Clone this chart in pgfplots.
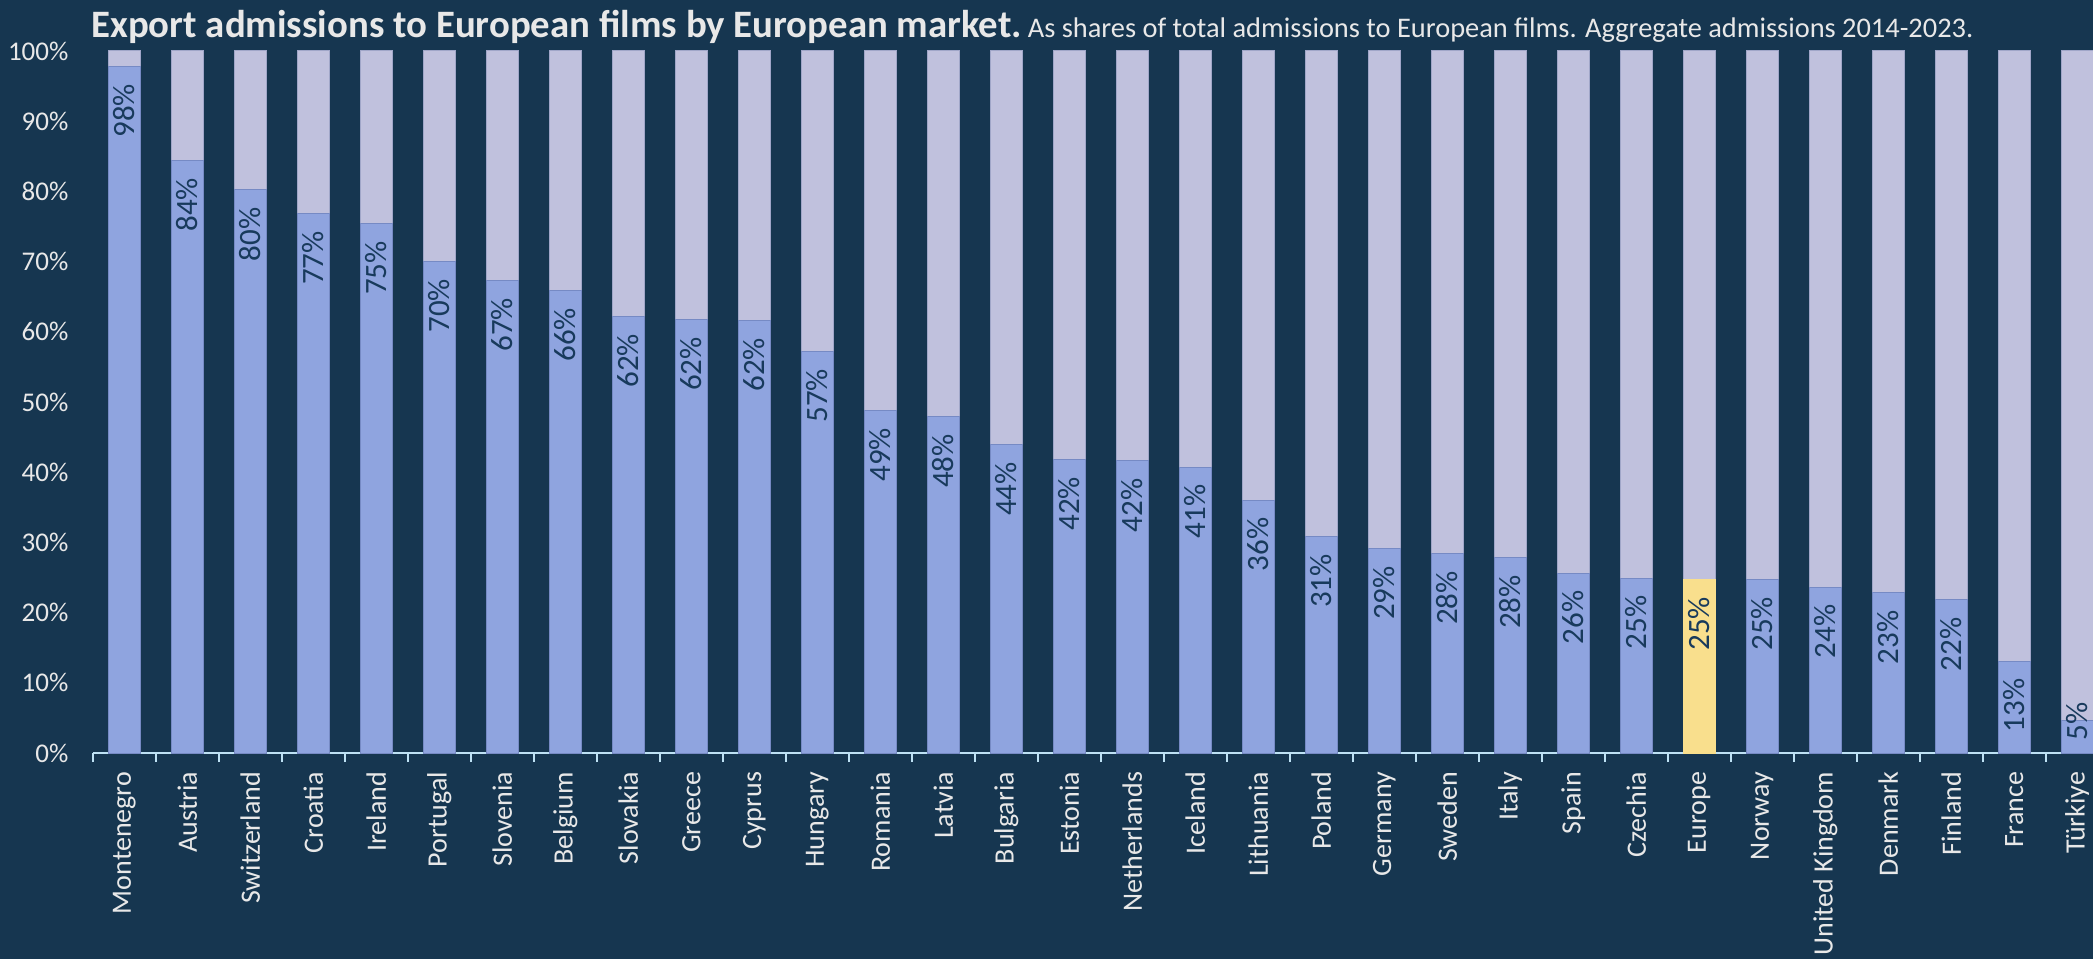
\documentclass[border=0pt]{standalone}
\usepackage{fontspec}
\setmainfont{Carlito}
\usepackage{pgfplots}
\usepackage{pgfplotstable}
\pgfplotsset{compat=1.18}
\definecolor{bg}{RGB}{22,54,80}
\definecolor{barblue}{RGB}{143,164,223}
\definecolor{baredge}{RGB}{118,138,196}
\definecolor{lav}{RGB}{192,193,221}
\definecolor{lavedge}{RGB}{160,166,200}
\definecolor{euyel}{RGB}{249,223,141}
\definecolor{lbl}{RGB}{24,58,92}
\definecolor{txt}{RGB}{232,232,232}
\definecolor{axblue}{RGB}{190,226,245}
\pgfplotstableread{
x y
0 97.8
1 84.4
2 80.2
3 76.8
4 75.4
5 70.0
6 67.3
7 65.9
8 62.2
9 61.7
10 61.6
11 57.2
12 48.8
13 47.9
14 43.9
15 41.8
16 41.6
17 40.7
18 36.0
19 30.8
20 29.1
21 28.4
22 27.8
23 25.6
24 24.9
26 24.7
27 23.6
28 22.8
29 21.8
30 13.1
}\countries
\pgfplotstableread{
x y
31 4.7
}\turkiye
\pgfplotstableread{
x y
25 24.7
}\europe
\pgfplotstableread{
x y
0 100
1 100
2 100
3 100
4 100
5 100
6 100
7 100
8 100
9 100
10 100
11 100
12 100
13 100
14 100
15 100
16 100
17 100
18 100
19 100
20 100
21 100
22 100
23 100
24 100
25 100
26 100
27 100
28 100
29 100
30 100
31 100
}\total
\begin{document}
\begin{tikzpicture}[x=1pt,y=1pt]
\fill[bg] (0,0) rectangle (1046.5,479.5);
\node[anchor=base west, inner sep=0pt, text=txt] at (45.5,460.8)
  {{\bfseries\fontsize{19.4}{21}\selectfont Export admissions to European films by European market.} {\fontsize{14.2}{16}\selectfont As shares of total admissions to European films. Aggregate admissions 2014-2023.}};
\begin{axis}[
  at={(46.4pt,103pt)}, anchor=south west,
  width=1008pt, height=351pt, scale only axis,
  xmin=-0.5, xmax=31.5, ymin=0, ymax=100,
  /pgf/number format/assume math mode=true,
  axis x line*=bottom, axis y line*=left,
  x axis line style={draw=axblue, line width=1pt, -},
  y axis line style={draw=none},
  ytick={0,10,...,100},
  yticklabel={\pgfmathprintnumber{\tick}\%},
  yticklabel style={font=\fontsize{13.5}{15}\selectfont, text=txt, inner xsep=0pt, xshift=-12pt},
  xtick={0,...,31},
  xticklabels={Montenegro,Austria,Switzerland,Croatia,Ireland,Portugal,Slovenia,Belgium,Slovakia,Greece,Cyprus,Hungary,Romania,Latvia,Bulgaria,Estonia,Netherlands,Iceland,Lithuania,Poland,Germany,Sweden,Italy,Spain,Czechia,Europe,Norway,United Kingdom,Denmark,Finland,France,Türkiye},
  xticklabel style={font=\fontsize{14}{16}\selectfont, text=txt, rotate=90, anchor=east, inner xsep=9.3pt, inner ysep=0pt},
  major tick length=0pt,
  minor xtick={-0.5,0.5,...,31.5},
  minor tick length=4.5pt,
  tick align=outside,
  minor tick style={draw=axblue, line width=1pt},
  ytick style={draw=none},
  clip=true,
]
\addplot[ybar, bar width=16pt, bar shift=0pt, fill=lav, draw=lavedge, line width=0.5pt] table[x=x,y=y] {\total};
\addplot[ybar, bar width=16pt, bar shift=0pt, fill=barblue, draw=baredge, line width=0.5pt,
  nodes near coords={\pgfmathprintnumber[fixed,precision=0]{\pgfplotspointmeta}\%},
  every node near coord/.append style={rotate=90, anchor=east, font=\fontsize{15.5}{17}\selectfont, text=lbl, inner xsep=8.5pt, inner ysep=0pt}]
  table[x=x,y=y] {\countries};
\addplot[ybar, bar width=16pt, bar shift=0pt, fill=barblue, draw=baredge, line width=0.5pt,
  nodes near coords={\pgfmathprintnumber[fixed,precision=0]{\pgfplotspointmeta}\%},
  every node near coord/.append style={rotate=90, anchor=east, font=\fontsize{15.5}{17}\selectfont, text=lbl, inner xsep=-9pt, inner ysep=0pt}]
  table[x=x,y=y] {\turkiye};
\addplot[ybar, bar width=16pt, bar shift=0pt, fill=euyel, draw=euyel, line width=0.5pt,
  nodes near coords={\pgfmathprintnumber[fixed,precision=0]{\pgfplotspointmeta}\%},
  every node near coord/.append style={rotate=90, anchor=east, font=\fontsize{15.5}{17}\selectfont, text=lbl, inner xsep=8.5pt, inner ysep=0pt}]
  table[x=x,y=y] {\europe};
\end{axis}
\pgfresetboundingbox
\useasboundingbox (0,0) rectangle (1046.5,479.5);
\end{tikzpicture}
\end{document}
